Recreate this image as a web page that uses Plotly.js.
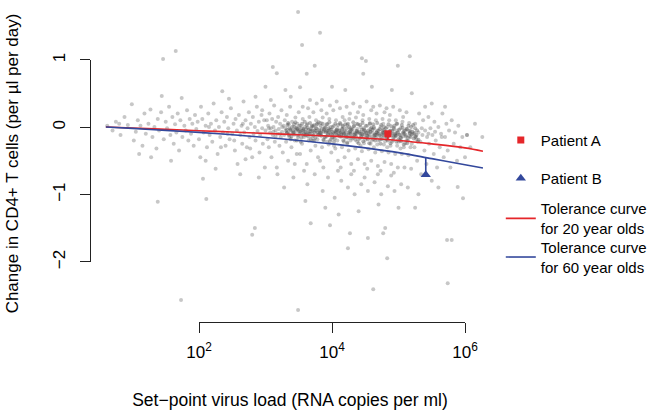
<!DOCTYPE html>
<html><head><meta charset="utf-8">
<script src="https://cdn.plot.ly/plotly-3.0.1.min.js"></script>
<style>html,body{margin:0;padding:0;background:#fff}</style>
</head><body><div id="chart" style="width:650px;height:412px"></div>
<script>
// Tolerance curves: log10 set-point VL vs expected change
const curveLogVL = [0.6, 1.0, 1.5, 2.0, 2.5, 3.0, 3.5, 4.0, 4.5, 5.0, 5.5, 6.0, 6.27];
const curve20yr = [0, -0.015, -0.035, -0.055, -0.075, -0.095, -0.115, -0.135, -0.165, -0.20, -0.25, -0.31, -0.36];
const curve60yr = [0, -0.02, -0.05, -0.08, -0.115, -0.155, -0.20, -0.25, -0.31, -0.38, -0.47, -0.56, -0.61];

const patientNames = ['Patient A', 'Patient B'];
const patientLogVL = [4.84, 5.41];
const patientChange = [-0.10, -0.71];
const patientCurveValue = [-0.19, -0.46];

const curveNames = ['Tolerance curve<br>for 20 year olds', 'Tolerance curve<br>for 60 year olds'];
const xTickVals = [2, 4, 6];
const xTickText = ['10<sup>2</sup>', '10<sup>4</sup>', '10<sup>6</sup>'];
const yTickVals = [-2, -1, 0, 1];

// Cohort points [log10 VL, change]
const cloudLeft = [[0.62,0.02],[0.70,-0.05],[0.75,0.08],[0.82,-0.12],[0.88,0.15],[0.93,0.03],[0.99,0.34],[1.02,-0.2],[1.05,-0.07],[1.08,0.1],[1.12,0.02],[1.15,-0.28],[1.18,0.2],[1.2,-0.1],[1.24,0.05],[1.27,0.26],[1.3,-0.15],[1.33,0.0],[1.36,-0.32],[1.38,0.12],[1.4,-0.05],[1.43,0.22],[1.44,0.46],[1.47,-0.18],[1.5,0.08],[1.52,-0.02],[1.55,0.3],[1.57,-0.12],[1.6,0.15],[1.62,-0.25],[1.64,0.04],[1.66,-0.08],[1.68,0.2],[1.7,-0.35],[1.72,0.1],[1.74,0.43],[1.75,-0.15],[1.78,0.02],[1.8,-0.05],[1.82,0.25],[1.84,-0.2],[1.86,0.12],[1.88,-0.1],[1.9,0.05],[1.92,-0.28],[1.94,0.18],[1.96,-0.03],[1.98,0.08],[2.0,-0.18],[2.02,-0.45],[2.03,0.3],[1.1,-0.4],[1.28,-0.45],[0.8,0.05],[1.58,-0.5]];
const cloudMidLeft = [[2.05,0.12],[2.07,-0.08],[2.1,0.02],[2.12,-0.3],[2.14,0.2],[2.16,-0.12],[2.18,0.05],[2.2,-0.22],[2.22,0.35],[2.24,-0.05],[2.26,0.1],[2.28,-0.4],[2.3,0.0],[2.32,-0.15],[2.34,0.22],[2.35,0.53],[2.36,-0.08],[2.38,0.08],[2.4,-0.28],[2.42,0.15],[2.44,-0.02],[2.46,-0.18],[2.48,0.28],[2.5,-0.1],[2.52,0.05],[2.54,-0.35],[2.55,0.12],[2.57,-0.05],[2.58,-0.55],[2.6,0.18],[2.62,-0.12],[2.64,0.02],[2.65,-0.25],[2.67,0.38],[2.68,-0.08],[2.7,0.1],[2.72,-0.3],[2.73,-0.02],[2.75,0.22],[2.76,-0.15],[2.78,0.05],[2.8,-0.45],[2.81,0.15],[2.82,-0.1],[2.84,0.0],[2.85,-0.2],[2.87,0.3],[2.88,-0.06],[2.9,0.08],[2.91,-0.38],[2.92,-0.12],[2.94,0.18],[2.95,-0.02],[2.96,-0.25],[2.98,0.1],[2.99,-0.6],[2.1,-0.5],[2.25,-0.62],[2.45,0.42],[2.62,-0.7],[2.7,-0.48],[2.85,0.45],[2.9,-0.75],[2.33,-0.3],[2.53,-0.2],[2.77,-0.32],[2.66,0.05],[2.43,-0.1],[2.15,0.0],[2.95,0.25]];
const cloudRise = [[3.0,-0.05],[3.02,0.1],[3.03,-0.18],[3.04,0.02],[3.05,-0.3],[3.06,0.2],[3.07,-0.08],[3.08,-0.02],[3.09,-0.45],[3.1,0.12],[3.11,-0.12],[3.12,0.0],[3.13,0.32],[3.14,-0.22],[3.15,-0.05],[3.16,0.08],[3.17,-0.6],[3.18,-0.1],[3.19,0.15],[3.2,-0.03],[3.21,-0.28],[3.22,0.05],[3.23,-0.15],[3.24,0.25],[3.25,-0.07],[3.26,-0.38],[3.27,0.02],[3.28,-0.12],[3.29,0.1],[3.3,-0.02],[3.31,-0.22],[3.32,0.18],[3.33,-0.08],[3.34,-0.5],[3.35,0.04],[3.36,-0.15],[3.37,0.3],[3.38,-0.05],[3.39,-0.3],[3.4,0.08],[3.41,-0.1],[3.42,-0.75],[3.43,0.0],[3.44,-0.2],[3.45,0.14],[3.46,-0.06],[3.47,-0.4],[3.48,0.05],[3.49,-0.12],[3.5,0.22],[3.05,-0.02],[3.15,-0.14],[3.25,0.0],[3.35,-0.1],[3.45,-0.04],[3.12,-0.07],[3.22,-0.1],[3.32,-0.04],[3.42,-0.09],[3.48,-0.02],[3.08,0.4],[3.28,-0.9],[3.38,0.45],[3.18,-0.7],[3.44,-0.55]];
const cloudCore = [
[3.51,-0.04],[3.52,-0.1],[3.53,0.02],[3.54,-0.08],[3.55,-0.25],[3.56,0.12],[3.57,-0.05],[3.58,-0.15],[3.59,0.0],[3.52,-0.4],[3.56,0.3],[3.58,-0.65],[3.54,-0.02],[3.57,-0.12],[3.6,-0.07],
[3.61,-0.03],[3.62,-0.12],[3.63,0.05],[3.64,-0.09],[3.65,-0.2],[3.66,0.15],[3.67,-0.06],[3.68,-0.35],[3.69,0.0],[3.62,-0.55],[3.64,0.28],[3.66,-0.1],[3.68,-0.03],[3.7,-0.14],[3.63,-0.85],[3.67,0.4],
[3.71,-0.05],[3.72,-0.13],[3.73,0.03],[3.74,-0.08],[3.75,-0.28],[3.76,0.1],[3.77,-0.02],[3.78,-0.18],[3.79,-0.45],[3.72,0.22],[3.74,-0.7],[3.76,-0.06],[3.78,0.05],[3.8,-0.11],[3.71,-0.2],[3.77,0.35],
[3.81,-0.04],[3.82,-0.12],[3.83,0.06],[3.84,-0.09],[3.85,-0.3],[3.86,0.14],[3.87,-0.07],[3.88,-0.2],[3.89,0.0],[3.82,-0.5],[3.84,0.25],[3.86,-0.95],[3.88,-0.03],[3.9,-0.15],[3.83,-0.08],[3.87,-0.6],[3.85,0.4],
[3.91,-0.06],[3.92,-0.14],[3.93,0.04],[3.94,-0.1],[3.95,-0.26],[3.96,0.12],[3.97,-0.04],[3.98,-0.18],[3.99,-0.38],[3.92,0.2],[3.94,-0.75],[3.96,-0.08],[3.98,0.0],[4.0,-0.12],[3.93,-0.22],[3.97,0.32],[3.95,-0.05],
[4.01,-0.07],[4.02,-0.15],[4.03,0.02],[4.04,-0.1],[4.05,-0.32],[4.06,0.1],[4.07,-0.05],[4.08,-0.2],[4.09,-0.5],[4.02,0.25],[4.04,-1.05],[4.06,-0.09],[4.08,-0.02],[4.1,-0.13],[4.03,-0.28],[4.07,0.38],[4.05,-0.06],[4.09,-0.65],
[4.11,-0.06],[4.12,-0.14],[4.13,0.04],[4.14,-0.11],[4.15,-0.3],[4.16,0.15],[4.17,-0.08],[4.18,-0.22],[4.19,-0.45],[4.12,0.28],[4.14,-0.8],[4.16,-0.03],[4.18,-0.1],[4.2,-0.16],[4.13,-0.6],[4.17,0.0],[4.15,-0.09],[4.19,0.1],
[4.21,-0.07],[4.22,-0.15],[4.23,0.03],[4.24,-0.12],[4.25,-0.35],[4.26,0.12],[4.27,-0.05],[4.28,-0.2],[4.29,-0.55],[4.22,0.3],[4.24,-0.9],[4.26,-0.1],[4.28,-0.02],[4.3,-0.17],[4.23,-0.25],[4.27,0.2],[4.25,-0.08],[4.29,-0.7],
[4.31,-0.08],[4.32,-0.16],[4.33,0.02],[4.34,-0.12],[4.35,-0.32],[4.36,0.14],[4.37,-0.06],[4.38,-0.22],[4.39,-0.48],[4.32,0.35],[4.34,-1.0],[4.36,-0.1],[4.38,-0.03],[4.4,-0.18],[4.33,-0.65],[4.37,0.05],[4.35,-0.09],[4.39,0.22],
[4.41,-0.09],[4.42,-0.17],[4.43,0.0],[4.44,-0.13],[4.45,-0.36],[4.46,0.1],[4.47,-0.07],[4.48,-0.24],[4.49,-0.55],[4.42,0.3],[4.44,-0.85],[4.46,-0.11],[4.48,-0.04],[4.5,-0.19],[4.43,-0.28],[4.47,0.18],[4.45,-0.1],[4.49,-0.75],
[4.51,-0.08],[4.52,-0.16],[4.53,0.02],[4.54,-0.14],[4.55,-0.33],[4.56,0.12],[4.57,-0.07],[4.58,-0.25],[4.59,-0.5],[4.52,0.38],[4.54,-0.95],[4.56,-0.12],[4.58,-0.03],[4.6,-0.2],[4.53,-0.62],[4.57,0.06],[4.55,-0.1],[4.59,0.25],
[4.61,-0.09],[4.62,-0.18],[4.63,0.0],[4.64,-0.13],[4.65,-0.38],[4.66,0.1],[4.67,-0.08],[4.68,-0.26],[4.69,-0.58],[4.62,0.3],[4.64,-0.82],[4.66,-0.12],[4.68,-0.05],[4.7,-0.2],[4.63,-0.3],[4.67,0.2],[4.65,-0.11],[4.69,-0.7],
[4.71,-0.1],[4.72,-0.19],[4.73,0.0],[4.74,-0.14],[4.75,-0.36],[4.76,0.12],[4.77,-0.08],[4.78,-0.26],[4.79,-0.52],[4.72,0.32],[4.74,-1.0],[4.76,-0.12],[4.78,-0.04],[4.8,-0.21],[4.73,-0.65],[4.77,0.05],[4.75,-0.1],[4.79,0.22],
[4.81,-0.1],[4.82,-0.18],[4.83,0.0],[4.84,-0.15],[4.85,-0.38],[4.86,0.1],[4.87,-0.09],[4.88,-0.28],[4.89,-0.55],[4.82,0.28],[4.84,-0.88],[4.86,-0.13],[4.88,-0.05],[4.9,-0.22],[4.83,-0.3],[4.87,0.18],[4.85,-0.12],[4.89,-0.72],
[4.91,-0.1],[4.92,-0.2],[4.93,-0.01],[4.94,-0.15],[4.95,-0.4],[4.96,0.1],[4.97,-0.09],[4.98,-0.28],[4.99,-0.6],[4.92,0.3],[4.94,-0.95],[4.96,-0.13],[4.98,-0.05],[5.0,-0.22],[4.93,-0.68],[4.97,0.05],[4.95,-0.12],
[5.01,-0.11],[5.02,-0.2],[5.03,-0.02],[5.04,-0.16],[5.05,-0.4],[5.06,0.08],[5.07,-0.1],[5.08,-0.3],[5.09,-0.6],[5.02,0.25],[5.04,-0.85],[5.06,-0.14],[5.08,-0.06],[5.1,-0.24],[5.03,-0.32],[5.07,0.15],
[5.11,-0.12],[5.12,-0.2],[5.13,-0.03],[5.14,-0.16],[5.15,-0.42],[5.16,0.06],[5.17,-0.1],[5.18,-0.3],[5.19,-0.62],[5.12,0.22],[5.14,-0.9],[5.16,-0.14],[5.18,-0.06],[5.2,-0.25]];
const cloudDenseBand = [
[3.31,-0.06],[3.33,0.03],[3.35,-0.12],[3.36,-0.02],[3.38,-0.18],[3.32,-0.09],[3.34,0.06],[3.37,-0.04],[3.39,-0.14],[3.4,0.0],
[3.41,-0.05],[3.43,0.04],[3.44,-0.11],[3.46,-0.01],[3.47,-0.2],[3.42,-0.08],[3.45,0.07],[3.48,-0.03],[3.49,-0.15],[3.5,-0.06],
[3.51,0.02],[3.52,-0.07],[3.54,-0.16],[3.55,0.05],[3.57,-0.03],[3.58,-0.1],[3.53,-0.22],[3.56,-0.05],[3.59,0.08],[3.6,-0.12],
[3.61,-0.08],[3.62,0.03],[3.64,-0.14],[3.65,-0.04],[3.67,0.06],[3.68,-0.18],[3.63,-0.01],[3.66,-0.1],[3.69,-0.06],[3.7,0.02],
[3.71,-0.1],[3.72,0.01],[3.74,-0.05],[3.75,-0.16],[3.77,0.04],[3.78,-0.08],[3.73,-0.2],[3.76,-0.02],[3.79,-0.12],[3.8,0.07],
[3.81,-0.06],[3.83,0.02],[3.84,-0.13],[3.85,-0.03],[3.87,-0.19],[3.82,-0.09],[3.86,0.05],[3.88,-0.05],[3.89,-0.15],[3.9,-0.01],
[3.91,-0.08],[3.92,0.04],[3.94,-0.12],[3.95,-0.02],[3.97,-0.21],[3.93,-0.06],[3.96,0.07],[3.98,-0.1],[3.99,-0.04],[4.0,-0.16],
[4.01,0.0],[4.02,-0.09],[4.04,-0.17],[4.05,0.05],[4.07,-0.04],[4.08,-0.12],[4.03,-0.22],[4.06,-0.07],[4.09,0.03],[4.1,-0.1],
[4.11,-0.05],[4.12,0.06],[4.14,-0.14],[4.15,-0.03],[4.17,-0.2],[4.13,-0.08],[4.16,0.02],[4.18,-0.11],[4.19,-0.06],[4.2,0.04],
[4.21,-0.12],[4.22,-0.02],[4.24,0.05],[4.25,-0.16],[4.27,-0.07],[4.23,-0.23],[4.26,0.0],[4.28,-0.1],[4.29,-0.04],[4.3,-0.14],
[4.31,-0.03],[4.32,0.07],[4.34,-0.11],[4.35,-0.19],[4.37,-0.06],[4.33,0.01],[4.36,-0.14],[4.38,-0.08],[4.39,0.04],[4.4,-0.24],
[4.41,-0.07],[4.42,0.03],[4.44,-0.15],[4.45,-0.04],[4.47,-0.21],[4.43,-0.1],[4.46,0.06],[4.48,-0.02],[4.49,-0.12],[4.5,-0.06],
[4.51,0.02],[4.52,-0.09],[4.54,-0.18],[4.55,-0.05],[4.57,0.05],[4.53,-0.13],[4.56,-0.24],[4.58,-0.07],[4.59,-0.01],[4.6,-0.15],
[4.61,-0.04],[4.62,0.04],[4.64,-0.12],[4.65,-0.2],[4.67,-0.08],[4.63,-0.02],[4.66,-0.16],[4.68,0.06],[4.69,-0.1],[4.7,-0.05],
[4.71,-0.13],[4.72,-0.03],[4.74,0.03],[4.75,-0.18],[4.77,-0.09],[4.73,-0.25],[4.76,-0.05],[4.78,0.0],[4.79,-0.14],[4.8,-0.07],
[4.81,-0.02],[4.82,-0.11],[4.84,-0.2],[4.85,0.04],[4.87,-0.06],[4.83,-0.15],[4.86,-0.09],[4.88,-0.24],[4.89,0.01],[4.9,-0.12],
[4.91,-0.06],[4.92,-0.16],[4.94,0.02],[4.95,-0.1],[4.97,-0.22],[4.93,-0.03],[4.96,-0.13],[4.98,0.05],[4.99,-0.08],[5.0,-0.18],
[5.01,-0.04],[5.02,-0.12],[5.04,-0.21],[5.05,0.03],[5.07,-0.08],[5.03,-0.16],[5.06,-0.01],[5.08,-0.26],[5.09,-0.1],[5.1,-0.05],
[5.11,-0.14],[5.12,-0.03],[5.14,-0.2],[5.15,0.02],[5.17,-0.09],[5.13,-0.24],[5.16,-0.06],[5.18,-0.15],[5.19,0.0],[5.2,-0.11],
[5.21,-0.07],[5.23,-0.17],[5.25,-0.02],[5.27,-0.12],[5.29,-0.22],[5.22,0.03],[5.24,-0.09],[5.26,-0.14],[5.28,-0.05],[5.3,-0.19]];
const cloudRight = [[5.22,-0.1],[5.24,-0.3],[5.25,0.05],[5.27,-0.18],[5.28,-0.5],[5.3,-0.08],[5.31,0.2],[5.33,-0.22],[5.34,-0.7],[5.36,-0.12],[5.37,0.1],[5.39,-0.35],[5.4,-0.05],[5.42,-0.55],[5.43,-0.15],[5.45,0.15],[5.46,-0.25],[5.48,-0.02],[5.5,-0.8],[5.51,-0.12],[5.53,-0.4],[5.54,0.08],[5.56,-0.2],[5.58,-0.6],[5.6,0.0],[5.62,-0.3],[5.64,-0.1],[5.66,0.2],[5.68,-0.45],[5.7,-0.15],[5.72,0.05],[5.74,-0.35],[5.76,-0.05],[5.78,-0.6],[5.8,0.1],[5.83,-0.25],[5.85,-0.08],[5.88,-0.5],[5.9,0.02],[5.93,-0.3],[5.96,-0.15],[6.0,-0.45],[6.03,-0.12],[6.08,-0.3],[6.15,0.05],[6.26,-0.15],[5.35,-0.02],[5.25,-0.15],[5.45,-0.1],[5.55,-0.07],[5.65,-0.15],[5.3,-1.0],[5.6,-0.9],[5.89,-0.89],[5.97,-1.06],[5.5,0.35],[5.7,0.3],[5.4,0.3]];
const cloudOutliers = [[1.46,1.01],[1.65,1.13],[1.38,-1.11],[1.73,-2.57],[2.11,-1.07],[2.06,-0.77],[3.49,1.71],[3.82,1.40],[3.55,1.22],[3.11,0.89],[3.17,0.80],[3.62,0.79],[3.74,0.91],[3.52,0.59],[2.84,-1.5],[2.80,-1.6],[3.49,-2.72],[4.24,-1.80],[4.27,-1.58],[3.68,-1.43],[3.97,-1.46],[5.17,1.05],[4.45,1.02],[4.51,0.98],[4.99,0.91],[4.47,0.79],[5.73,-1.68],[5.80,-1.68],[5.74,-2.32],[4.62,-2.41],[4.83,-1.95],[4.77,-1.58],[4.80,-1.5],[4.54,-1.65],[6.03,-0.12],[3.0,0.6],[3.3,0.55],[4.0,0.6],[4.2,0.55],[4.6,0.6],[4.9,0.55],[5.2,0.5],[3.9,-1.2],[4.4,-1.25],[5.0,-1.2],[4.1,-1.3],[3.6,-1.1],[4.7,-1.15],[5.25,-1.2]];

const cloud = [].concat(cloudLeft, cloudMidLeft, cloudRise, cloudCore, cloudRight, cloudOutliers);

const FONT = 'Liberation Sans, Arial, Helvetica, sans-serif';
const RED = '#e5262a';
const BLUE = '#33489c';

function legendBox(yc) {
  return {x:1.027, xanchor:'left', y:yc, yanchor:'middle', font:{family:FONT, size:15, color:'#000'},
          bgcolor:'rgba(0,0,0,0)', borderwidth:0, valign:'middle', itemwidth:30};
}

const traces = [
  {type:'scatter', mode:'markers', x: cloud.map(p=>p[0]), y: cloud.map(p=>p[1]),
   marker:{size:4, color:'rgba(85,85,85,0.33)', line:{width:0}}, showlegend:false, hoverinfo:'skip'},
  {type:'scatter', mode:'markers', x: cloudDenseBand.map(p=>p[0]), y: cloudDenseBand.map(p=>p[1]),
   marker:{size:4, color:'rgba(80,80,80,0.42)', line:{width:0}}, showlegend:false, hoverinfo:'skip'},
  {type:'scatter', mode:'lines', x: curveLogVL, y: curve20yr, name: curveNames[0],
   line:{color:RED, width:1.6, shape:'spline'}, legend:'legend3'},
  {type:'scatter', mode:'lines', x: curveLogVL, y: curve60yr, name: curveNames[1],
   line:{color:BLUE, width:1.6, shape:'spline'}, legend:'legend4'},
  {type:'scatter', mode:'lines', x:[patientLogVL[0], patientLogVL[0]], y:[patientChange[0], patientCurveValue[0]],
   line:{color:RED, width:1.6}, showlegend:false, hoverinfo:'skip'},
  {type:'scatter', mode:'lines', x:[patientLogVL[1], patientLogVL[1]], y:[patientChange[1], patientCurveValue[1]],
   line:{color:BLUE, width:1.6}, showlegend:false, hoverinfo:'skip'},
  {type:'scatter', mode:'markers', x:[patientLogVL[0]], y:[patientChange[0]], name: patientNames[0],
   marker:{symbol:'square', size:7, color:RED}, legend:'legend'},
  {type:'scatter', mode:'markers', x:[patientLogVL[1]], y:[patientChange[1]], name: patientNames[1],
   marker:{symbol:'triangle-up', size:9, color:BLUE}, legend:'legend2'},
  {type:'scatter', mode:'markers', x:[], y:[], xaxis:'x2', yaxis:'y2', showlegend:false, hoverinfo:'skip'}
];

const layout = {
  width:650, height:412,
  margin:{l:90, r:160, t:5, b:90, autoexpand:false},
  paper_bgcolor:'#ffffff', plot_bgcolor:'rgba(0,0,0,0)',
  font:{family:FONT, size:17, color:'#000'},
  showlegend:true,
  legend: legendBox(0.573),
  legend2: legendBox(0.453),
  legend3: legendBox(0.327),
  legend4: legendBox(0.205),
  xaxis:{type:'linear', domain:[0,1], range:[0.361, 6.376], showline:false, showgrid:false, zeroline:false,
         showticklabels:false, ticks:'', title:{text:'Set−point virus load (RNA copies per ml)', font:{size:17.5}, standoff:71}},
  yaxis:{type:'linear', domain:[0,1], range:[-2.897, 1.813], showline:false, showgrid:false, zeroline:false,
         showticklabels:false, ticks:'', title:{text:'Change in CD4+ T cells (per µl per day)', font:{size:17}, standoff:66}},
  xaxis2:{type:'linear', domain:[0.2725, 0.9375], range:[2, 6], anchor:'free', position:0,
          tickvals:xTickVals, ticktext:xTickText, ticks:'outside', ticklen:10, tickcolor:'#222', tickwidth:1,
          ticklabelstandoff:5,
          showline:true, linecolor:'#222', linewidth:1, showgrid:false, zeroline:false, tickfont:{size:17}},
  yaxis2:{type:'linear', domain:[0.1893, 0.8265], range:[-2, 1], anchor:'free', position:0,
          tickvals:yTickVals, ticks:'outside', ticklen:10, tickcolor:'#222', tickwidth:1, tickangle:-90,
          ticklabelstandoff:8,
          showline:true, linecolor:'#222', linewidth:1, showgrid:false, zeroline:false, tickfont:{size:17}}
};

Plotly.newPlot('chart', traces, layout, {staticPlot:true, displayModeBar:false});
</script></body></html>
